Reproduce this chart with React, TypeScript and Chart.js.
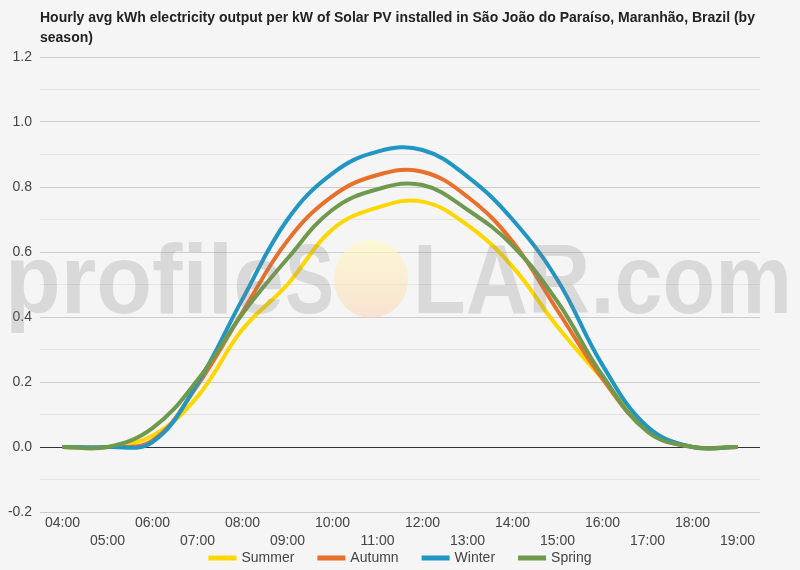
import React, { useEffect, useRef } from 'react';
import { Chart, registerables } from 'chart.js';

Chart.register(...registerables);

const FONT = '"Liberation Sans", Arial, Helvetica, sans-serif';

const titleLines = [
  'Hourly avg kWh electricity output per kW of Solar PV installed in São João do Paraíso, Maranhão, Brazil (by',
  'season)',
];

const hours = ['04:00', '05:00', '06:00', '07:00', '08:00', '09:00', '10:00', '11:00', '12:00', '13:00', '14:00', '15:00', '16:00', '17:00', '18:00', '19:00'];

const summer = [0, 0, 0.035, 0.155, 0.362, 0.5, 0.67, 0.737, 0.755, 0.683, 0.555, 0.37, 0.21, 0.06, 0, 0];
const autumn = [0, 0, 0.02, 0.19, 0.415, 0.635, 0.772, 0.837, 0.847, 0.77, 0.632, 0.42, 0.21, 0.05, 0, 0];
const winter = [0, 0, 0.015, 0.196, 0.455, 0.7, 0.842, 0.909, 0.914, 0.832, 0.7, 0.514, 0.252, 0.062, 0, 0];
const spring = [0, 0, 0.058, 0.206, 0.41, 0.58, 0.73, 0.793, 0.806, 0.73, 0.62, 0.447, 0.22, 0.047, 0, 0];

const seriesNames = ['Summer', 'Autumn', 'Winter', 'Spring'];
const seriesColors = ['#FFD700', '#E8702A', '#2196C4', '#6F9A4D'];

const yMin = -0.2;
const yMax = 1.2;

const titlePlugin = {
  id: 'leftTitle',
  afterDraw(chart: any) {
    const ctx = chart.ctx;
    ctx.save();
    ctx.font = `bold 14px ${FONT}`;
    ctx.fillStyle = '#222';
    ctx.textBaseline = 'middle';
    ctx.textAlign = 'left';
    titleLines.forEach((line, i) => ctx.fillText(line, 40, 18 + i * 20));
    ctx.restore();
  },
};

const legendPlugin = {
  id: 'bottomLegend',
  afterDraw(chart: any) {
    const ctx = chart.ctx as CanvasRenderingContext2D;
    const ds = chart.data.datasets;
    const boxW = 28;
    const boxH = 5;
    const gapText = 5;
    const gapItem = 23;
    const y = 558;
    ctx.save();
    ctx.font = `14px ${FONT}`;
    ctx.textBaseline = 'middle';
    ctx.textAlign = 'left';
    const widths = ds.map((d: any) => boxW + gapText + ctx.measureText(d.label).width);
    const total = widths.reduce((a: number, b: number) => a + b, 0) + gapItem * (ds.length - 1);
    let x = chart.width / 2 - total / 2;
    ds.forEach((d: any, i: number) => {
      ctx.fillStyle = d.borderColor;
      ctx.fillRect(x, y - boxH / 2, boxW, boxH);
      ctx.fillStyle = '#444';
      ctx.fillText(d.label, x + boxW + gapText, y);
      x += widths[i] + gapItem;
    });
    ctx.restore();
  },
};

function drawFit(ctx: CanvasRenderingContext2D, text: string, x1: number, x2: number, y: number) {
  const w = ctx.measureText(text).width;
  ctx.save();
  ctx.translate(x1, y);
  ctx.scale((x2 - x1) / w, 1);
  ctx.fillText(text, 0, 0);
  ctx.restore();
}

const watermarkPlugin = {
  id: 'watermark',
  afterDatasetsDraw(chart: any) {
    const ctx = chart.ctx as CanvasRenderingContext2D;
    ctx.save();
    ctx.font = `bold 98px ${FONT}`;
    ctx.textBaseline = 'alphabetic';
    ctx.textAlign = 'left';
    ctx.fillStyle = 'rgba(130,130,130,0.24)';
    drawFit(ctx, 'profile', 5, 284, 313);
    drawFit(ctx, 'S', 285, 334, 313);
    drawFit(ctx, 'LAR.com', 413, 792, 313);
    const g = ctx.createLinearGradient(0, 240, 0, 318);
    g.addColorStop(0, 'rgba(255,250,190,0.6)');
    g.addColorStop(1, 'rgba(250,215,185,0.6)');
    ctx.fillStyle = g;
    ctx.beginPath();
    ctx.ellipse(371, 279, 37, 39, 0, 0, Math.PI * 2);
    ctx.fill();
    ctx.restore();
  },
};

export default function App() {
  const ref = useRef<HTMLCanvasElement>(null);

  useEffect(() => {
    document.body.style.margin = '0';
    document.body.style.background = '#f5f5f5';
    const series = [summer, autumn, winter, spring];
    const chart = new Chart(ref.current as HTMLCanvasElement, {
      type: 'line',
      data: {
        labels: hours,
        datasets: series.map((d, i) => ({
          label: seriesNames[i],
          data: d,
          borderColor: seriesColors[i],
          backgroundColor: seriesColors[i],
          borderWidth: 4,
          pointRadius: 0,
          tension: 0.4,
          fill: false,
          order: series.length - i,
        })),
      },
      options: {
        animation: false,
        responsive: false,
        devicePixelRatio: 1,
        layout: { padding: { top: 57, right: 40, left: 0, bottom: 21 } },
        plugins: {
          title: { display: false },
          tooltip: { enabled: false },
          legend: { display: false },
        },
        scales: {
          x: {
            type: 'category',
            offset: true,
            grid: { display: false },
            border: { display: false },
            afterFit: (s: any) => {
              s.height = 37;
            },
            ticks: {
              autoSkip: false,
              maxRotation: 0,
              color: '#444',
              padding: -6,
              font: { size: 14, family: FONT, lineHeight: 1.3 },
              callback: (_v: any, i: number) => (i % 2 === 0 ? hours[i] : ['', hours[i]]),
            },
          },
          y: {
            min: yMin,
            max: yMax,
            border: { display: false },
            afterFit: (s: any) => {
              s.width = 40;
            },
            grid: {
              drawTicks: false,
              color: (c: any) => {
                const v = Math.round((c.tick?.value ?? 0) * 10);
                if (v === 0) return '#333';
                return v % 2 === 0 ? '#cccccc' : '#e4e4e4';
              },
            },
            ticks: {
              stepSize: 0.1,
              padding: 8,
              color: '#444',
              font: { size: 14, family: FONT },
              callback: (v: any) => {
                const n = Math.round(Number(v) * 10);
                return n % 2 === 0 ? (n / 10).toFixed(1) : '';
              },
            },
          },
        },
      },
      plugins: [titlePlugin, watermarkPlugin, legendPlugin],
    } as any);
    return () => chart.destroy();
  }, []);

  return (
    <div style={{ position: 'absolute', left: 0, top: 0, width: 800, height: 570, background: '#f5f5f5' }}>
      <canvas ref={ref} width={800} height={570} />
    </div>
  );
}
